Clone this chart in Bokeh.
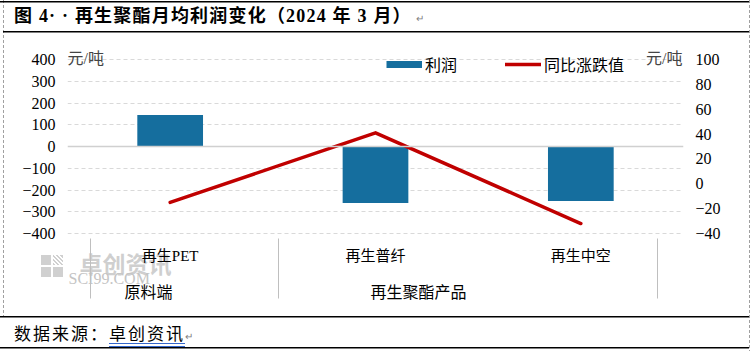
import numpy as np
from bokeh.plotting import figure
from bokeh.layouts import column
from bokeh.models import (Range1d, LinearAxis, FixedTicker, Span, Label, Legend,
                          LegendItem, FactorRange, Div, ColumnDataSource)
from bokeh.core.properties import value
from bokeh.embed import file_html
from bokeh.resources import INLINE

# ---------------- data ----------------
categories = ["再生PET", "再生普纤", "再生中空"]
groups = ["原料端", "再生聚酯产品"]
profit = [145, -260, -250]          # 利润 元/吨 (left axis)
yoy_change = [-15, 41, -32]         # 同比涨跌值 元/吨 (right axis)
left_ticks = [-400, -300, -200, -100, 0, 100, 200, 300, 400]
right_ticks = [-40, -20, 0, 20, 40, 60, 80, 100]
series_names = ["利润", "同比涨跌值"]
unit_text = "元/吨"
title_text = "图 4·&nbsp;·&nbsp;再生聚酯月均利润变化（2024 年 3 月）"
source_label = "数据来源："
source_name = "卓创资讯"
watermark_cn = "卓创资讯"
watermark_en = "SCI99.COM"

# ---------------- layout constants (page pixels) ----------------
W, H = 753, 351
TITLE_H, FOOT_H = 32, 34
FIG_TOP = TITLE_H
FIG_H = H - TITLE_H - FOOT_H
FL, FR = 67, 683             # frame left/right
Y_TOP_TICK, Y_BOT_TICK = 59, 233   # pixel rows of +400 / -400
BLUE = "#156E9E"
RED = "#C00000"
GRID = "#D9D9D9"
MIX = "'Liberation Serif', 'Noto Sans CJK SC', serif"
CJK = "'Noto Sans CJK SC', sans-serif"


def dx(px):
    return (px - FL) / (FR - FL) * len(categories)


def dy(py):
    return 400 - (py - Y_TOP_TICK) * 800 / (Y_BOT_TICK - Y_TOP_TICK)


def dy2(py):
    return 100 - (py - Y_TOP_TICK) * 140 / (Y_BOT_TICK - Y_TOP_TICK)


fig = figure(width=W, height=FIG_H, x_range=FactorRange(*categories),
             y_range=Range1d(dy(FIG_TOP + FIG_H), dy(FIG_TOP)),
             output_backend="svg", toolbar_location=None,
             min_border_left=FL, min_border_right=W - FR,
             min_border_top=0, min_border_bottom=0, margin=0)
fig.outline_line_color = None
fig.background_fill_color = None
fig.border_fill_color = None
fig.xaxis.visible = False


def style_axis(ax):
    ax.axis_line_color = None
    ax.major_tick_line_color = None
    ax.minor_tick_line_color = None
    ax.major_tick_out = 0
    ax.major_tick_in = 0
    ax.major_label_standoff = 12
    ax.major_label_text_font = MIX
    ax.major_label_text_font_size = "16px"
    ax.major_label_text_color = "#000000"


fig.yaxis.ticker = FixedTicker(ticks=left_ticks)
style_axis(fig.yaxis[0])

fig.extra_y_ranges = {"y2": Range1d(dy2(FIG_TOP + FIG_H), dy2(FIG_TOP))}
ax2 = LinearAxis(y_range_name="y2", ticker=FixedTicker(ticks=right_ticks))
style_axis(ax2)
fig.add_layout(ax2, "right")

# grid
fig.xgrid.grid_line_color = None
fig.ygrid.ticker = FixedTicker(ticks=[t for t in left_ticks if t != 0])
fig.ygrid.grid_line_color = GRID
fig.ygrid.grid_line_dash = "4 3"
fig.ygrid.grid_line_width = 1
fig.add_layout(Span(location=0, dimension="width", line_color="#D0D0D0", line_width=1.5))

# watermark (drawn first, behind everything)
fig.text(x=[dx(79)], y=[dy(262)], text=[watermark_cn], text_font=value(CJK),
         text_font_size="23px", text_color="#CFCFCF", text_baseline="middle",
         text_align="left", text_font_style="bold")
fig.text(x=[dx(68)], y=[dy(278)], text=[watermark_en],
         text_font=value("'Liberation Serif', serif"), text_font_size="16px",
         text_color="#C4C4C4", text_baseline="middle", text_align="left")

# glyphs
fig.vbar(x=categories, top=profit, width=0.32, fill_color=BLUE, line_color=None)
fig.line(x=categories, y=yoy_change, y_range_name="y2", line_color=RED,
         line_width=3.5, line_cap="round", line_join="round")

# category labels (x axis row) drawn through the categorical scale
cat_src = ColumnDataSource(dict(x=categories, y=[dy(255)] * len(categories), t=categories))
fig.text(x="x", y="y", text="t", source=cat_src, text_font=value(MIX),
         text_font_size="15px", text_color="#000000", text_align="center",
         text_baseline="middle")

# group labels and separators
for g, px in zip(groups, (148, 418)):
    fig.add_layout(Label(x=dx(px), y=dy(290), text=g, text_align="center",
                         text_baseline="middle", text_font=CJK,
                         text_font_size="16px", text_color="#000000"))
seps = [90, 278, 657]
fig.segment(x0=[dx(s) for s in seps], y0=[dy(238)] * 3,
            x1=[dx(s) for s in seps], y1=[dy(298)] * 3,
            line_color="#BFBFBF", line_width=1)

# unit labels
fig.add_layout(Label(x=dx(FL), y=dy(58), text=unit_text, text_align="left",
                     text_baseline="middle", text_font=MIX, text_font_size="16px"))
fig.add_layout(Label(x=dx(682), y=dy(58), text=unit_text, text_align="right",
                     text_baseline="middle", text_font=MIX, text_font_size="16px"))

# legend (swatch proxies)
leg_bar = fig.line(x=[categories[0]], y=[np.nan], line_color=BLUE, line_width=7)
leg_line = fig.line(x=[categories[0]], y=[np.nan], line_color=RED, line_width=3.5,
                    line_cap="round")
legend = Legend(items=[LegendItem(label=series_names[0], renderers=[leg_bar]),
                       LegendItem(label=series_names[1], renderers=[leg_line])],
                orientation="horizontal",
                location=(386 - FL, (FIG_TOP + FIG_H) - 76),
                glyph_width=36, glyph_height=20, label_height=20, label_standoff=3,
                spacing=48, padding=0, margin=0, border_line_color=None,
                background_fill_alpha=0, label_text_font=CJK,
                label_text_font_size="16px", label_text_color="#000000")
fig.add_layout(legend)

# ---------------- title / footer (HTML) ----------------
title_div = Div(
    text=(f"<div style=\"padding:4px 0 0 14px; font-family:{MIX}; font-size:18px;"
          f" font-weight:bold; line-height:24px; white-space:nowrap; color:#000;"
          f" letter-spacing:1.2px;\">"
          f"{title_text}<span style=\"font-weight:normal; font-size:10px; color:#808080;\">"
          f"&nbsp;↵</span></div>"),
    width=W, height=TITLE_H, margin=0)

footer_div = Div(
    text=(f"<div style=\"padding:4px 0 0 14px; font-family:{CJK}; font-size:17px;"
          f" line-height:24px; white-space:nowrap; color:#000; letter-spacing:2px;\">"
          f"{source_label}<span style=\"text-decoration:underline double #3366CC;"
          f" text-underline-offset:3px;\">{source_name}</span>"
          f"<span style=\"font-size:10px; color:#808080; letter-spacing:0;\">↵</span></div>"),
    width=W, height=FOOT_H, margin=0)

# page frame lines + watermark logo squares as CSS background of the page column
solid = "linear-gradient(#000, #000)"
dashed = ("repeating-linear-gradient(to bottom, #A0A0A0 0px, #A0A0A0 3px, "
          "transparent 3px, transparent 5px)")
logo = "linear-gradient(#D0D0D0, #D0D0D0)"
logo_light = ("repeating-linear-gradient(45deg, #D0D0D0 0px, #D0D0D0 1.5px, "
              "transparent 1.5px, transparent 3px)")
layers = [
    (solid, "749px 1.5px", "0px 0.5px"),
    (solid, "746px 1.5px", "3px 31px"),
    (solid, "749px 1.5px", "0px 316px"),
    (solid, "749px 1.5px", "0px 347px"),
    (dashed, "1px 317px", "3px 0px"),
    (dashed, "1px 351px", "749px 0px"),
    (logo, "10px 10px", "41px 255px"),
    (logo_light, "10px 10px", "53px 255px"),
    (logo, "10px 10px", "41px 267px"),
    (logo, "10px 10px", "53px 267px"),
]

p = column(title_div, fig, footer_div, spacing=0, width=W, height=H,
           styles={"background-color": "white",
                   "background-image": ", ".join(l[0] for l in layers),
                   "background-size": ", ".join(l[1] for l in layers),
                   "background-position": ", ".join(l[2] for l in layers),
                   "background-repeat": "no-repeat"})

open("out.html", "w").write(file_html(p, INLINE))
